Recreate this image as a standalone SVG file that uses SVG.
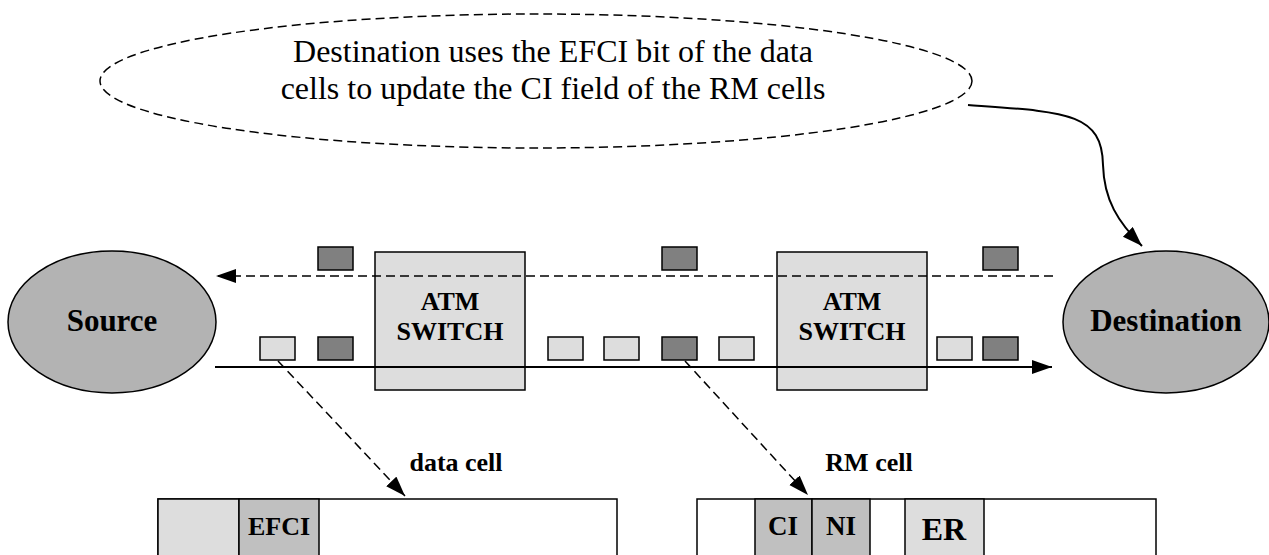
<svg xmlns="http://www.w3.org/2000/svg" width="1269" height="555" viewBox="0 0 1269 555">
  <style>
    .serif { font-family: "Liberation Serif", "Times New Roman", serif; }
    .bold { font-family: "Liberation Serif", "Times New Roman", serif; font-weight: bold; text-anchor: middle; }
    .node { fill: #b3b3b3; stroke: #000; stroke-width: 1.5; }
    .switch { fill: #dddddd; stroke: #000; stroke-width: 1.5; }
    .light { fill: #dddddd; stroke: #000; stroke-width: 1.5; }
    .dark { fill: #808080; stroke: #000; stroke-width: 1.5; }
    .mid { fill: #c0c0c0; stroke: #000; stroke-width: 1.5; }
    .plain { fill: #ffffff; stroke: #000; stroke-width: 1.5; }
    .dash { fill: none; stroke: #000; stroke-width: 1.5; stroke-dasharray: 9 5; }
    .solid { fill: none; stroke: #000; stroke-width: 2; }
  </style>
  <defs>
    <marker id="arrow" markerUnits="userSpaceOnUse" markerWidth="22" markerHeight="16" refX="20" refY="7" orient="auto">
      <path d="M0,0 L20,7 L0,14 Z" fill="#000"/>
    </marker>
  </defs>

  <rect width="1269" height="555" fill="#ffffff"/>

  <!-- callout note -->
  <g id="note">
    <ellipse cx="536" cy="81" rx="436" ry="67" class="dash"/>
    <text class="serif" font-size="32" text-anchor="middle" x="553" y="62">Destination uses the EFCI bit of the data</text>
    <text class="serif" font-size="32" text-anchor="middle" x="553" y="99">cells to update the CI field of the RM cells</text>
  </g>

  <!-- end systems -->
  <g id="source">
    <ellipse cx="112" cy="322" rx="104" ry="71" class="node"/>
    <text class="bold" font-size="31" x="112" y="331">Source</text>
  </g>
  <g id="destination">
    <ellipse cx="1166" cy="322" rx="103" ry="71" class="node"/>
    <text class="bold" font-size="31" x="1166" y="331">Destination</text>
  </g>

  <!-- switches -->
  <g id="switch1">
    <rect x="375" y="252" width="150" height="138" class="switch"/>
    <text class="bold" font-size="26" x="450" y="310">ATM</text>
    <text class="bold" font-size="26" x="450" y="340">SWITCH</text>
  </g>
  <g id="switch2">
    <rect x="777" y="252" width="150" height="138" class="switch"/>
    <text class="bold" font-size="26" x="852" y="310">ATM</text>
    <text class="bold" font-size="26" x="852" y="340">SWITCH</text>
  </g>

  <!-- connectors -->
  <g id="connectors">
    <line x1="1053" y1="276" x2="216" y2="276" class="dash" marker-end="url(#arrow)"/>
    <line x1="215" y1="367" x2="1052" y2="367" class="solid" marker-end="url(#arrow)"/>
    <path d="M968,105 C1065,112 1102,112 1103,165 C1104,200 1118,222 1142,246" class="solid" stroke-width="1.8" marker-end="url(#arrow)"/>
    <line x1="278" y1="361" x2="405" y2="496" class="dash" marker-end="url(#arrow)"/>
    <line x1="685" y1="361" x2="808" y2="495" class="dash" marker-end="url(#arrow)"/>
  </g>

  <!-- cells in flight: backward (RM) -->
  <g id="backward-cells">
    <rect x="318" y="247" width="35" height="23" class="dark"/>
    <rect x="662" y="247" width="35" height="23" class="dark"/>
    <rect x="983" y="247" width="35" height="23" class="dark"/>
  </g>

  <!-- cells in flight: forward -->
  <g id="forward-cells">
    <rect x="260" y="337" width="35" height="23" class="light"/>
    <rect x="318" y="337" width="35" height="23" class="dark"/>
    <rect x="548" y="337" width="35" height="23" class="light"/>
    <rect x="604" y="337" width="35" height="23" class="light"/>
    <rect x="662" y="337" width="35" height="23" class="dark"/>
    <rect x="719" y="337" width="35" height="23" class="light"/>
    <rect x="937" y="337" width="35" height="23" class="light"/>
    <rect x="983" y="337" width="35" height="23" class="dark"/>
  </g>

  <!-- data cell layout -->
  <g id="data-cell">
    <text class="bold" font-size="26" x="456" y="471">data cell</text>
    <rect x="158" y="499" width="459" height="70" class="plain"/>
    <rect x="158" y="499" width="81" height="70" class="light"/>
    <rect x="239" y="499" width="80" height="70" class="mid"/>
    <text class="bold" font-size="26" x="279" y="535">EFCI</text>
  </g>

  <!-- RM cell layout -->
  <g id="rm-cell">
    <text class="bold" font-size="26" x="869" y="471">RM cell</text>
    <rect x="697" y="499" width="459" height="70" class="plain"/>
    <rect x="755" y="499" width="57" height="70" class="mid"/>
    <rect x="812" y="499" width="58" height="70" class="mid"/>
    <rect x="905" y="499" width="79" height="70" class="light"/>
    <text class="bold" font-size="27" x="783" y="535">CI</text>
    <text class="bold" font-size="27" x="841" y="535">NI</text>
    <text class="bold" font-size="32" x="944" y="540">ER</text>
  </g>
</svg>
